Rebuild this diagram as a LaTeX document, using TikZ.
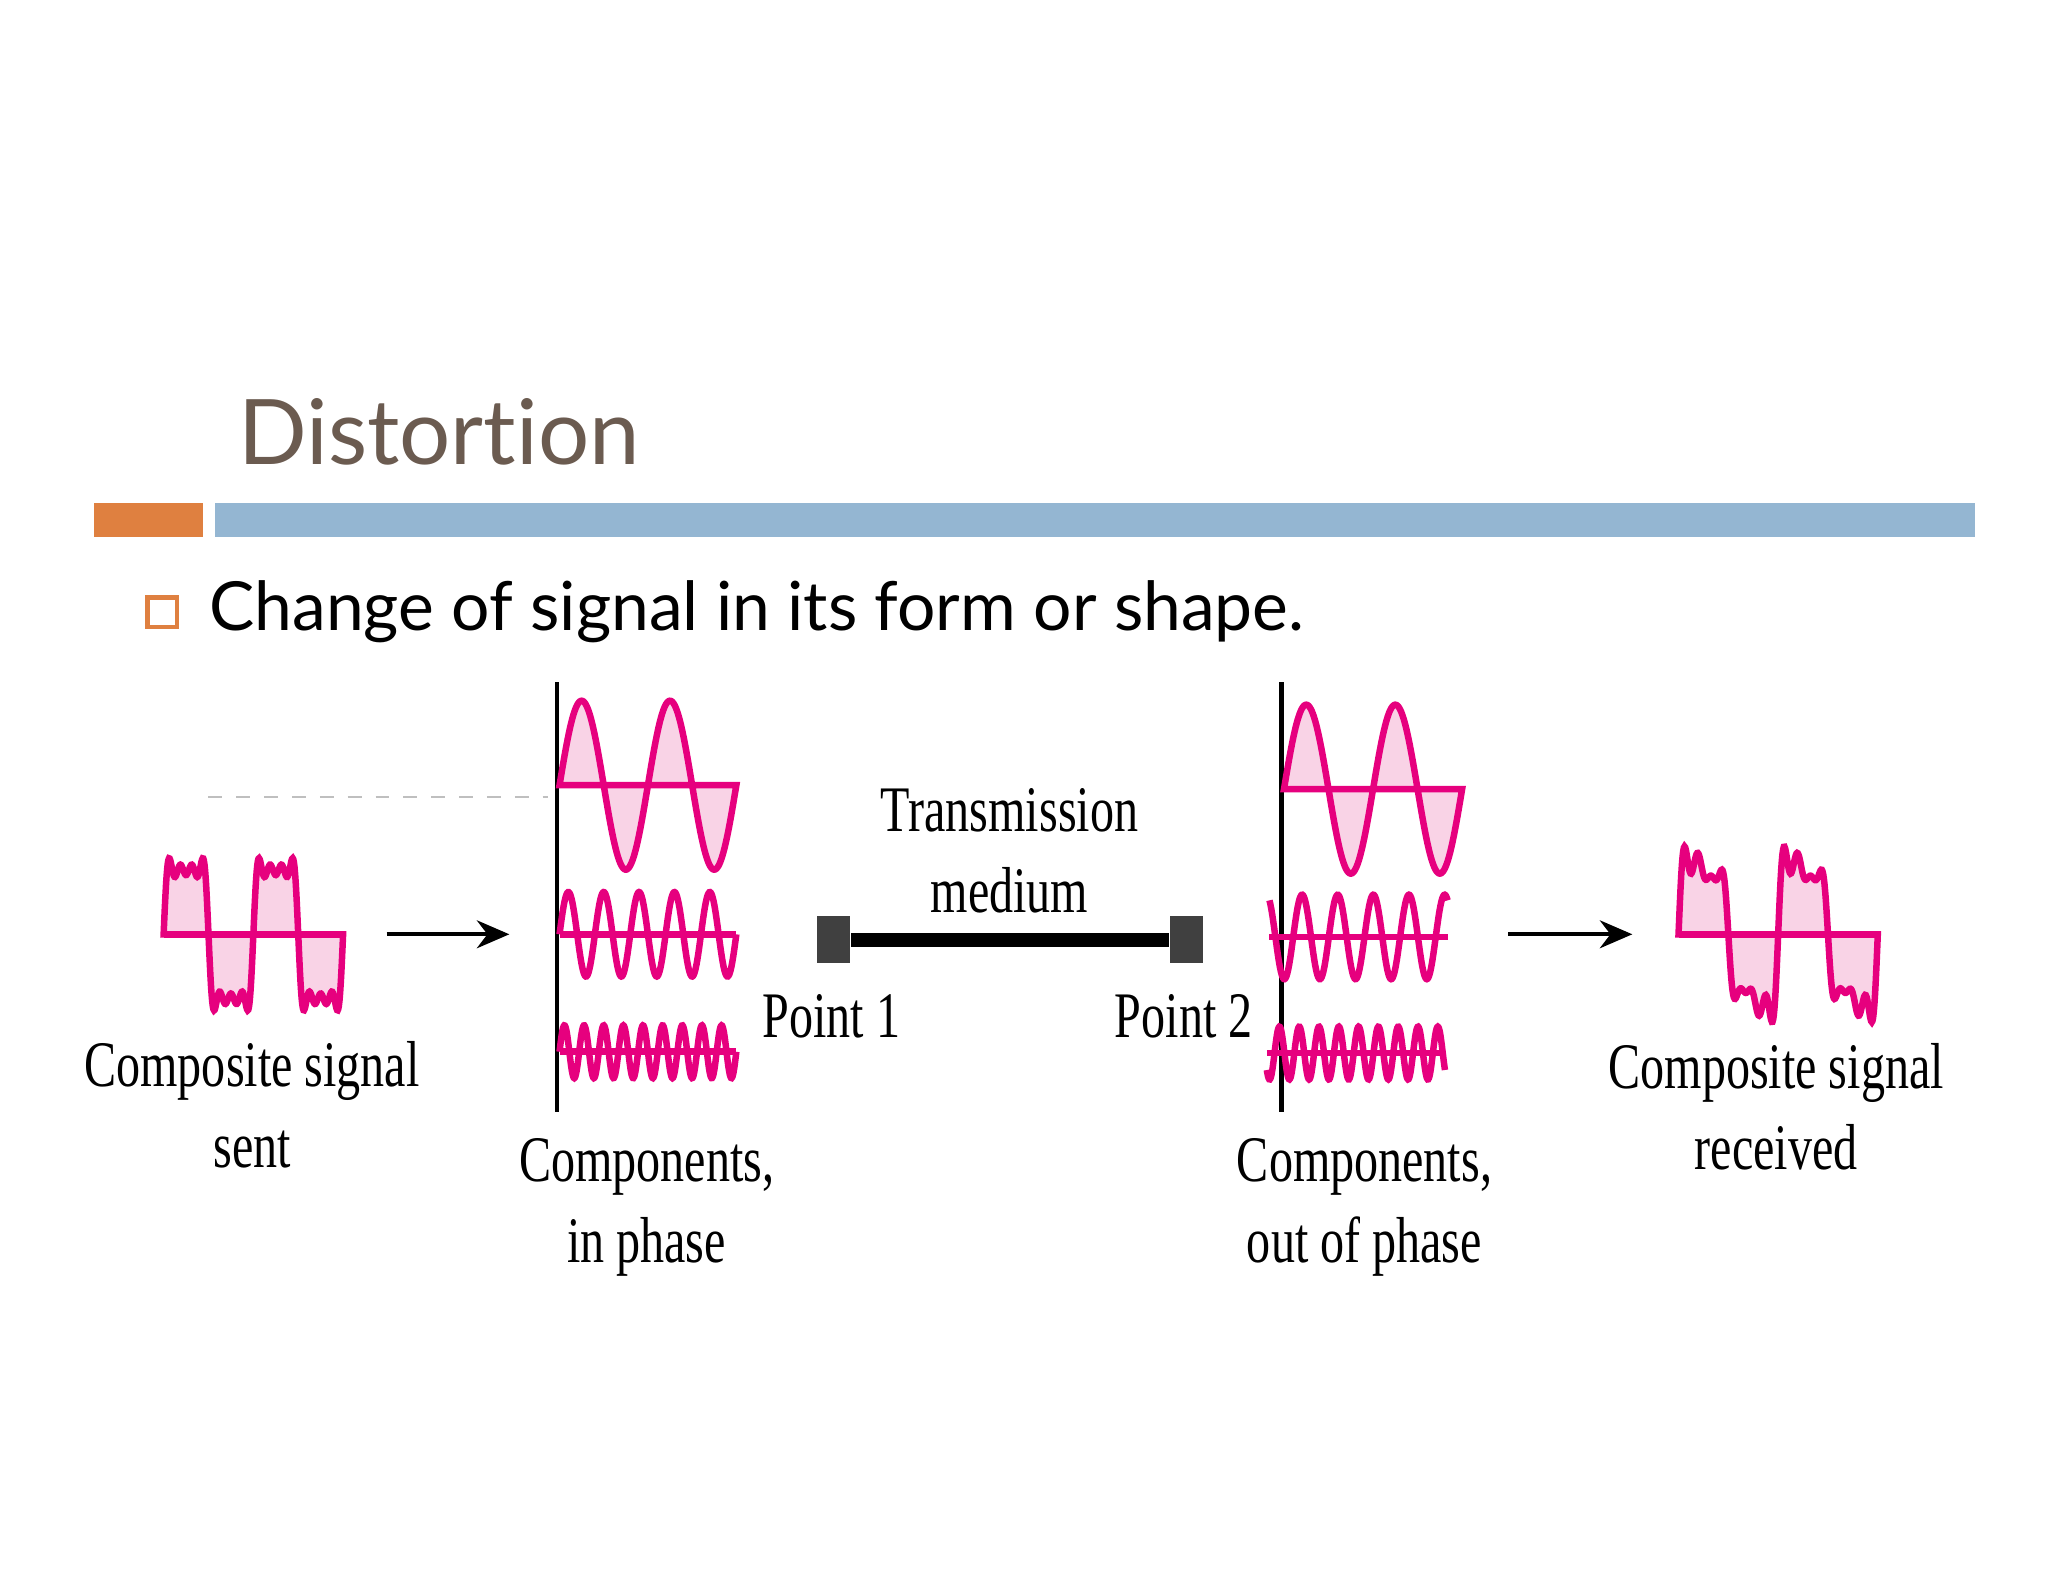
\documentclass[tikz,border=0pt]{standalone}
\usepackage{fontspec}
\setmainfont{Liberation Serif}
\newfontfamily\titlefont[Ligatures={NoCommon}]{Lato}
\usetikzlibrary{arrows.meta}
\definecolor{mag}{HTML}{E6007E}
\definecolor{pinkf}{HTML}{F9D3E6}
\definecolor{titlec}{HTML}{6B5B50}
\definecolor{orng}{HTML}{DF8040}
\definecolor{blu}{HTML}{94B6D2}
\tikzset{
  wave/.style={draw=mag,line width=1.4pt},
  lbl/.style={font=\fontsize{14}{17.5}\selectfont,xscale=0.74,align=center,inner sep=0pt},
  arr/.style={-{Stealth[length=7pt,width=6pt]},line width=0.9pt},
  term/.style={fill=black!75,minimum width=0.25cm,minimum height=0.35cm,inner sep=0pt},
  vline/.style={line width=1pt}
}
\begin{document}
\begin{tikzpicture}[x={(0.01cm,0)},y={(0,-0.01cm)}]
\useasboundingbox (0,0) rectangle (1552,1199);
% header
\node[anchor=base west,inner sep=0,text=titlec,font=\titlefont\fontsize{19.5}{24}\selectfont] (title) at (180,352) {Distortion};
\fill[orng] (71,381) rectangle (154,407);
\fill[blu] (163,381) rectangle (1497,407);
\draw[orng,line width=1pt] (112,453) rectangle (134,475);
\node[anchor=base west,inner sep=0,font=\titlefont\fontsize{14.6}{18}\selectfont] (bul) at (158,478) {Change of signal in its form or shape.};
\draw[black!25,dashed] (158,604) -- (415,604);
% composite sent
\begin{scope}[shift={(124,708)}]
\draw[wave,fill=pinkf] plot[domain=0:136,samples=300] (\x,{-62*(sin(\x/136*720)+sin(3*\x/136*720)/3+sin(5*\x/136*720)/5+sin(7*\x/136*720)/7)}) -- cycle;
\draw[wave] (0,0) -- (136,0);
\end{scope}
% in-phase components
\draw[vline] (422,517) -- (422,843);
\begin{scope}[shift={(424,595)}]
\draw[wave,fill=pinkf] plot[domain=0:134,samples=200] (\x,{-64*sin(\x/134*720)}) -- cycle;
\draw[wave] (0,0) -- (134,0);
\end{scope}
\begin{scope}[shift={(424,708)}]
\draw[wave] plot[domain=0:134,samples=250] (\x,{-32*sin(\x/134*1800)});
\draw[wave] (0,0) -- (134,0);
\end{scope}
\begin{scope}[shift={(424,797)}]
\draw[wave] plot[domain=0:134,samples=300] (\x,{-20*sin(\x/134*3240)});
\draw[wave] (0,0) -- (134,0);
\end{scope}
% out-of-phase components
\draw[vline] (971,517) -- (971,843);
\begin{scope}[shift={(973,598)}]
\draw[wave,fill=pinkf] plot[domain=0:135,samples=200] (\x,{-64*sin(\x/135*720)}) -- cycle;
\draw[wave] (0,0) -- (135,0);
\end{scope}
\begin{scope}[shift={(962,710)}]
\draw[wave] plot[domain=0:135,samples=250] (\x,{-32*sin(\x/135*1800+120)});
\draw[wave] (0,0) -- (135,0);
\end{scope}
\begin{scope}[shift={(960,798)}]
\draw[wave] plot[domain=0:135,samples=300] (\x,{-20*sin(\x/135*3240+220)});
\draw[wave] (0,0) -- (135,0);
\end{scope}
% composite received
\begin{scope}[shift={(1272,708)}]
\draw[wave,fill=pinkf] plot[domain=0:151,samples=300] (\x,{-62*(sin(\x/151*720)+sin(3*\x/151*720)/3+sin(5*\x/151*720)/5+sin(7*\x/151*720)/7+0.12*sin(2*\x/151*720)+0.08*sin(6*\x/151*720))}) -- cycle;
\draw[wave] (0,0) -- (151,0);
\end{scope}
% arrows
\coordinate (a1s) at (293,708); \coordinate (a1e) at (386,708);
\coordinate (a2s) at (1143,708); \coordinate (a2e) at (1237,708);
\draw[arr] (a1s) -- (a1e);
\draw[arr] (a2s) -- (a2e);
% medium
\node[term] (p1) at (632,712) {};
\node[term] (p2) at (899,712) {};
\draw[line width=3pt] (p1.east) -- (p2.west);
% labels
\node[lbl] (tm) at (765,645) {Transmission\\medium};
\node[lbl] (pt1) at (630,770) {Point 1};
\node[lbl] (pt2) at (897,770) {Point 2};
\node[lbl] (cs) at (191,837) {Composite signal\\sent};
\node[lbl] (cip) at (490,915) {Components,\\in phase};
\node[lbl] (cop) at (1034,915) {Components,\\out of phase};
\node[lbl] (cr) at (1346,839) {Composite signal\\received};
\end{tikzpicture}
\end{document}
